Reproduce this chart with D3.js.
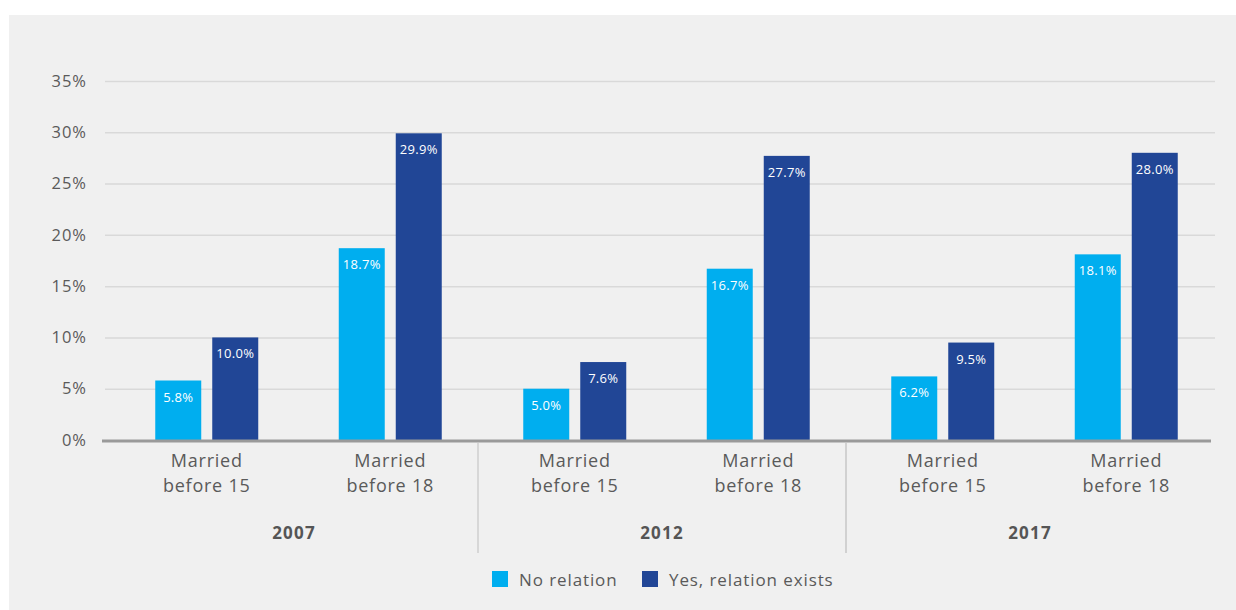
<!DOCTYPE html>
<html><head><meta charset="utf-8">
<script src="https://cdn.jsdelivr.net/npm/d3@7"></script>
<style>
html,body{margin:0;padding:0;background:#fff;}
svg{display:block;font-family:"Open Sans","Liberation Sans",Arial,sans-serif;}
</style></head>
<body>
<svg id="chart" width="1236" height="610"></svg>
<script>
const years = ["2007", "2012", "2017"];
const categories = ["Married\nbefore 15", "Married\nbefore 18"];
const seriesNames = ["No relation", "Yes, relation exists"];
const noRelation = [5.8, 18.7, 5.0, 16.7, 6.2, 18.1];
const yesRelation = [10.0, 29.9, 7.6, 27.7, 9.5, 28.0];
const yTicks = [0, 5, 10, 15, 20, 25, 30, 35];
const colors = ["#00aeef", "#214696"];

const svg = d3.select("#chart");
svg.append("rect").attr("x", 9).attr("y", 15).attr("width", 1227).attr("height", 595).attr("fill", "#f0f0f0");

const y = d3.scaleLinear().domain([0, 35]).range([440, 81]);
const xYear = d3.scaleBand().domain(years).range([110, 1214]);
const xCat = d3.scaleBand().domain(categories).range([5, 372]);
const xSer = d3.scaleBand().domain(seriesNames).range([-51.5, 51.5]).paddingInner(11/57);

// gridlines
const yAxis = d3.axisLeft(y).tickValues(yTicks).tickFormat(d => d + "%").tickSize(0).tickPadding(18);
const gy = svg.append("g").attr("transform", "translate(105,0)").call(yAxis);
gy.select(".domain").remove();
gy.selectAll("text").attr("fill", "#5a5a5a").attr("font-size", 16.5).attr("font-family", "'Open Sans'")
  .attr("letter-spacing", 1);
gy.selectAll(".tick").append("line").attr("x1", 0).attr("x2", 1110)
  .attr("stroke", d => d === 0 ? "none" : "#d9d9d9").attr("stroke-width", 1.5);

// data rows
const rows = [];
years.forEach((yr, i) => categories.forEach((c, j) => {
  const k = i * 2 + j;
  rows.push({yr, c, s: seriesNames[0], v: noRelation[k], col: colors[0]});
  rows.push({yr, c, s: seriesNames[1], v: yesRelation[k], col: colors[1]});
}));
const cx = d => xYear(d.yr) + xCat(d.c) + xCat.bandwidth() / 2;

svg.append("g").selectAll("rect").data(rows).join("rect")
  .attr("x", d => cx(d) + xSer(d.s))
  .attr("width", xSer.bandwidth())
  .attr("y", d => y(d.v))
  .attr("height", d => y(0) - y(d.v))
  .attr("fill", d => d.col);

svg.append("g").selectAll("text").data(rows).join("text")
  .attr("x", d => cx(d) + xSer(d.s) + xSer.bandwidth() / 2)
  .attr("y", d => y(d.v) + 21)
  .attr("text-anchor", "middle")
  .attr("fill", "#fff").attr("font-size", 13).attr("letter-spacing", 0.3)
  .text(d => d.v.toFixed(1) + "%");

// axis baseline
svg.append("line").attr("x1", 102).attr("x2", 1211).attr("y1", y(0) + 1).attr("y2", y(0) + 1)
  .attr("stroke", "#9a9a9a").attr("stroke-width", 3);

// separators
years.slice(1).forEach(yr => {
  svg.append("line").attr("x1", xYear(yr)).attr("x2", xYear(yr)).attr("y1", 443).attr("y2", 553)
    .attr("stroke", "#cfcfcf").attr("stroke-width", 1.5);
});
svg.append("line").attr("x1", xYear("2012") + xYear.bandwidth()).attr("x2", xYear("2012") + xYear.bandwidth())
  .attr("y1", 443).attr("y2", 553).attr("stroke", "#cfcfcf").attr("stroke-width", 1.5);

// category labels
years.forEach(yr => categories.forEach(c => {
  const t = svg.append("text").attr("text-anchor", "middle").attr("fill", "#5a5a5a")
    .attr("font-size", 18).attr("letter-spacing", 0.75);
  c.split("\n").forEach((line, li) => {
    t.append("tspan").attr("x", xYear(yr) + xCat(c) + xCat.bandwidth() / 2).attr("y", 467 + li * 25).text(line);
  });
}));

// year labels
svg.append("g").selectAll("text").data(years).join("text")
  .attr("x", d => xYear(d) + xYear.bandwidth() / 2)
  .attr("y", 539).attr("text-anchor", "middle")
  .attr("fill", "#555").attr("font-size", 17).attr("font-weight", "bold").attr("letter-spacing", 1.2)
  .text(d => d);

// legend
const legX = [492, 642];
const lg = svg.append("g").selectAll("g").data(seriesNames).join("g")
  .attr("transform", (d, i) => `translate(${legX[i]},571)`);
lg.append("rect").attr("width", 16).attr("height", 16).attr("fill", (d, i) => colors[i]);
lg.append("text").attr("x", 27).attr("y", 14.5).attr("fill", "#5a5a5a").attr("font-size", 17)
  .attr("letter-spacing", 0.9).text(d => d);
</script>
</body></html>
